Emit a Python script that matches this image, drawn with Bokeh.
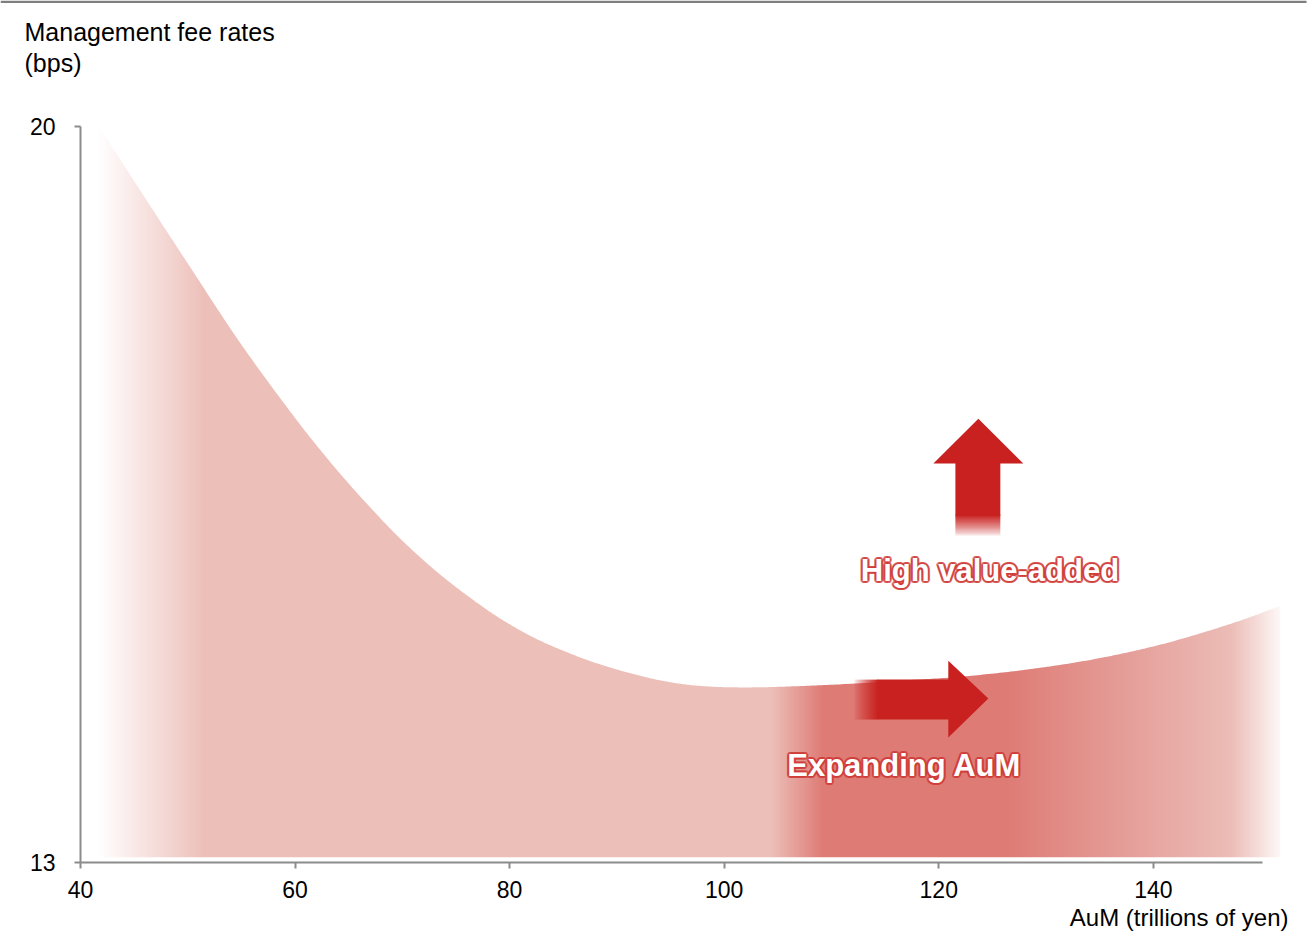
import numpy as np
from bokeh.plotting import figure
from bokeh.models import Label, FixedTicker, Range1d, Title
from bokeh.layouts import column
from bokeh.core.properties import value
from bokeh.embed import file_html
from bokeh.resources import INLINE

# Management fee rate (bps) against assets under management (trillions of yen)
aum = [41.86, 45.59, 50.25, 54.91, 60.22, 63.61, 66.72, 69.82, 72.93, 76.04,
       79.14, 82.25, 85.36, 88.46, 92.81, 95.92, 98.99, 102.11, 105.24,
       111.76, 116.42, 122.29, 128.54, 134.78, 140.93, 147.18, 151.83]
fee = [19.98, 19.39, 18.66, 17.94, 17.20, 16.77, 16.41, 16.08, 15.79, 15.54,
       15.32, 15.14, 15.00, 14.884, 14.76, 14.70, 14.672, 14.666, 14.672,
       14.70, 14.73, 14.77, 14.84, 14.94, 15.08, 15.27, 15.44]
x_ticks = [40, 60, 80, 100, 120, 140]
y_ticks = [13, 20]
fee_floor = 13.05

FONT = "Liberation Sans"
RED = "#C8211F"
RED_RGB = (200, 33, 31)
HALO = "#D03B37"
AXIS_GREY = "#8C8C8C"

# horizontal colour ramp of the shaded region: (AuM, RGB)
ramp = [
    (41.6, (255, 255, 255)),
    (51.6, (237, 191, 185)),
    (104.3, (237, 191, 185)),
    (109.2, (222, 123, 117)),
    (126.2, (222, 123, 117)),
    (138.8, (230, 162, 157)),
    (147.2, (236, 188, 182)),
    (152.3, (255, 255, 255)),
]


def rgba_image(rows, cols):
    img = np.empty((rows, cols), dtype=np.uint32)
    return img, img.view(dtype=np.uint8).reshape((rows, cols, 4))


def smooth_outline(xk, yk, per_seg=24):
    """Cubic Hermite curve through the knots (drawn like a smoothed line)."""
    xk, yk = np.asarray(xk, float), np.asarray(yk, float)
    n = len(xk)
    m = np.empty(n)
    m[0] = (yk[1] - yk[0]) / (xk[1] - xk[0])
    m[-1] = (yk[-1] - yk[-2]) / (xk[-1] - xk[-2])
    m[1:-1] = (yk[2:] - yk[:-2]) / (xk[2:] - xk[:-2])
    out_x, out_y = [], []
    for i in range(n - 1):
        h = xk[i + 1] - xk[i]
        t = np.linspace(0, 1, per_seg, endpoint=False)
        h00 = 2 * t**3 - 3 * t**2 + 1
        h10 = t**3 - 2 * t**2 + t
        h01 = -2 * t**3 + 3 * t**2
        h11 = t**3 - t**2
        out_x.extend(xk[i] + t * h)
        out_y.extend(h00 * yk[i] + h10 * h * m[i] + h01 * yk[i + 1] + h11 * h * m[i + 1])
    out_x.append(xk[-1])
    out_y.append(yk[-1])
    return out_x, out_y


def unaligned(fig):
    # keep each stacked figure's frame where its own borders put it
    if "frame_align" in fig.properties():
        fig.frame_align = False
    return fig


# ---------------------------------------------------------------- main chart
p = unaligned(figure(width=1312, height=838,
                     x_range=Range1d(40, 152.6), y_range=Range1d(13, 20.05),
                     output_backend="svg", toolbar_location=None,
                     min_border_left=80, min_border_right=24,
                     min_border_top=21, min_border_bottom=76,
                     outline_line_color=None,
                     background_fill_color="white", border_fill_color="white"))
p.grid.visible = False

# shaded region: colour ramp clipped by the fee curve
n_cols = 1200
x0, x1 = ramp[0][0], aum[-1]
xs = np.linspace(x0, x1, n_cols)
rx = [s[0] for s in ramp]
img, view = rgba_image(1, n_cols)
for k in range(3):
    view[0, :, k] = np.round(np.interp(xs, rx, [s[1][k] for s in ramp])).astype(np.uint8)
view[0, :, 3] = 255
img_top = max(fee) + 0.01
p.image_rgba(image=[img], x=x0, y=fee_floor, dw=x1 - x0, dh=img_top - fee_floor)

cx, cy = smooth_outline(aum, fee)
mask_x = [aum[0] - 1.5] + cx + [154, 154, aum[0] - 1.5]
mask_y = [fee[0]] + cy + [fee[-1], 21, 21]
p.patch(mask_x, mask_y, fill_color="white", line_color=None)

# upward arrow ("High value-added")
up_tip, up_head_base, up_head_l, up_head_r = (123.69, 17.223), 16.795, 119.50, 127.88
up_shaft_l, up_shaft_r, up_solid_bottom, up_fade_bottom = 121.55, 125.74, 16.30, 16.10
p.patch([up_head_l, up_tip[0], up_head_r, up_shaft_r, up_shaft_r, up_shaft_l, up_shaft_l],
        [up_head_base, up_tip[1], up_head_base, up_head_base, up_solid_bottom,
         up_solid_bottom, up_head_base],
        fill_color=RED, line_color=None)
rows = 40
fade, fv = rgba_image(rows, 1)
for k in range(3):
    fv[:, 0, k] = RED_RGB[k]
fv[:, 0, 3] = (255 * np.linspace(0, 1, rows) ** 0.8).astype(np.uint8)
p.image_rgba(image=[fade], x=up_shaft_l, y=up_fade_bottom,
             dw=up_shaft_r - up_shaft_l, dh=up_solid_bottom - up_fade_bottom + 0.01)

# rightward arrow ("Expanding AuM")
rt_tip, rt_head_x, rt_head_top, rt_head_bot = (124.62, 14.56), 120.89, 14.92, 14.19
rt_shaft_top, rt_shaft_bot, rt_solid_left, rt_fade_left = 14.74, 14.36, 114.28, 112.04
p.patch([rt_solid_left, rt_head_x, rt_head_x, rt_tip[0], rt_head_x, rt_head_x, rt_solid_left],
        [rt_shaft_top, rt_shaft_top, rt_head_top, rt_tip[1], rt_head_bot, rt_shaft_bot,
         rt_shaft_bot],
        fill_color=RED, line_color=None)
cols = 40
fade2, fv2 = rgba_image(1, cols)
for k in range(3):
    fv2[0, :, k] = RED_RGB[k]
fv2[0, :, 3] = (255 * np.linspace(0, 1, cols) ** 0.8).astype(np.uint8)
p.image_rgba(image=[fade2], x=rt_fade_left, y=rt_shaft_bot,
             dw=rt_solid_left - rt_fade_left + 0.05, dh=rt_shaft_top - rt_shaft_bot)

# callout texts: red halo underneath, white bold lettering on top
callouts = [("High value-added", 124.77, 15.777), ("Expanding AuM", 116.79, 13.923)]
angles = np.linspace(0, 2 * np.pi, 12, endpoint=False)
halo = dict(x=[], y=[], text=[], xo=[], yo=[])
for txt, tx, ty in callouts:
    for a in angles:
        halo["x"].append(tx)
        halo["y"].append(ty)
        halo["text"].append(txt)
        halo["xo"].append(2.2 * np.cos(a))
        halo["yo"].append(2.2 * np.sin(a))
p.text(x=halo["x"], y=halo["y"], text=halo["text"], x_offset=halo["xo"], y_offset=halo["yo"],
       text_align="center", text_baseline="middle", text_color=HALO, text_alpha=0.55,
       text_font=value(FONT), text_font_style="bold", text_font_size="31px")
for txt, tx, ty in callouts:
    p.add_layout(Label(x=tx, y=ty, text=txt, text_align="center",
                       text_baseline="middle", text_color="white",
                       text_font=FONT, text_font_style="bold", text_font_size="31px"))

# axes
xa, ya = p.xaxis[0], p.yaxis[0]
xa.ticker = FixedTicker(ticks=x_ticks)
ya.ticker = FixedTicker(ticks=y_ticks)
xa.bounds = (40, 150.2)
ya.bounds = (13, 20)
for ax in (xa, ya):
    ax.axis_line_color = AXIS_GREY
    ax.axis_line_width = 2
    ax.major_tick_line_color = AXIS_GREY
    ax.major_tick_line_width = 2
    ax.major_tick_out = 6
    ax.major_tick_in = 0
    ax.minor_tick_line_color = None
    ax.major_label_text_font = FONT
    ax.major_label_text_font_size = "23px"
    ax.major_label_text_color = "black"
xa.major_label_standoff = 12
ya.major_label_standoff = 19

# x title, right-aligned with the end of the plotting area
p.add_layout(Title(text="AuM (trillions of yen)", align="right", text_font=FONT,
                   text_font_size="24px", text_font_style="normal", text_color="black",
                   standoff=2), "below")

# ---------------------------------------------------------------- header: rule + y title
head = unaligned(figure(width=1312, height=100, x_range=Range1d(0, 1312),
                        y_range=Range1d(100, 0),
                        x_axis_type=None, y_axis_type=None, output_backend="svg",
                        toolbar_location=None, min_border=0, outline_line_color=None,
                        background_fill_color="white", border_fill_color="white"))
head.grid.visible = False
head.quad(left=0, right=1306, top=0, bottom=2.5, fill_color="#7F7F7F", line_color=None)
head.add_layout(Label(x=24, y=31, text="Management fee rates", text_align="left",
                      text_baseline="middle", text_font=FONT, text_font_size="25px",
                      text_color="black"))
head.add_layout(Label(x=24, y=62, text="(bps)", text_align="left",
                      text_baseline="middle", text_font=FONT, text_font_size="25px",
                      text_color="black"))

layout = column(head, p, spacing=0)
open("out.html", "w").write(file_html(layout, INLINE))
